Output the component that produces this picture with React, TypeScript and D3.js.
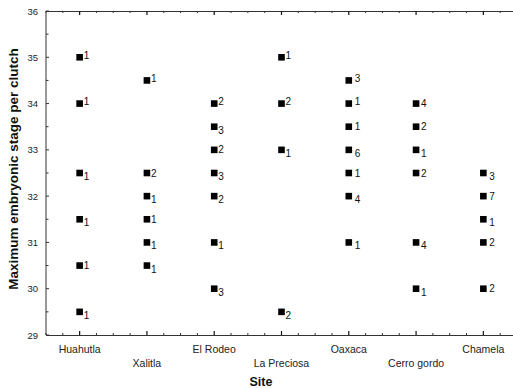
import React from 'react';
import * as d3 from 'd3';

// sites along the x axis
const sites = ['Huahutla', 'Xalitla', 'El Rodeo', 'La Preciosa', 'Oaxaca', 'Cerro gordo', 'Chamela'];

// max embryonic stage values per site
const stages = [
  [35, 34, 32.5, 31.5, 30.5, 29.5],
  [34.5, 32.5, 32, 31.5, 31, 30.5],
  [34, 33.5, 33, 32.5, 32, 31, 30],
  [35, 34, 33, 29.5],
  [34.5, 34, 33.5, 33, 32.5, 32, 31],
  [34, 33.5, 33, 32.5, 31, 30],
  [32.5, 32, 31.5, 31, 30],
];

// number of clutches at each point
const counts = [
  [1, 1, 1, 1, 1, 1],
  [1, 2, 1, 1, 1, 1],
  [2, 3, 2, 3, 2, 1, 3],
  [1, 2, 1, 2],
  [3, 1, 1, 6, 1, 4, 1],
  [4, 2, 1, 2, 4, 1],
  [3, 7, 1, 2, 2],
];

// where the count label sits next to its marker: u = raised, m = level, d = lowered
const labelPos = [
  ['u', 'u', 'd', 'd', 'm', 'd'],
  ['u', 'm', 'd', 'm', 'd', 'd'],
  ['u', 'd', 'm', 'd', 'd', 'd', 'd'],
  ['u', 'u', 'd', 'd'],
  ['u', 'u', 'm', 'd', 'm', 'd', 'd'],
  ['m', 'm', 'd', 'm', 'd', 'd'],
  ['d', 'm', 'd', 'm', 'm'],
];

const yTicks = [29, 30, 31, 32, 33, 34, 35, 36];

const W = 513;
const H = 388;
const top = 11;
const bottom = 335;
const left = 46;
const right = 517;

const font = '"Liberation Sans", Arial, sans-serif';
const axisColor = '#333';

export default function App() {
  const x = d3.scalePoint<string>().domain(sites).range([left, right]).padding(0.5);
  const y = d3.scaleLinear().domain([29, 36]).range([bottom, top]);
  const step = x.step();

  // minor ticks on x every quarter category
  const xMinor: number[] = [];
  for (let i = 0; i <= sites.length * 4; i++) {
    const px = left + (i * step) / 4;
    if (i % 4 !== 2) xMinor.push(px);
  }
  const yMinor = d3.range(29.5, 36, 1);

  const gap = [4, 4, 4, 4, 6, 5, 6];
  const baseShift: Record<string, number> = { u: 1.5, m: 3.5, d: 7 };

  return (
    <div style={{ position: 'fixed', left: 0, top: 0 }}>
      <svg width={W} height={H} style={{ display: 'block', background: '#fff' }} fontFamily={font}>
        {/* axis lines */}
        <line x1={left} x2={left} y1={top} y2={bottom} stroke={axisColor} strokeWidth={1} />
        <line x1={left} x2={right} y1={bottom + 0.5} y2={bottom + 0.5} stroke={axisColor} strokeWidth={1} />
        <line x1={left} x2={right} y1={top + 0.5} y2={top + 0.5} stroke={axisColor} strokeWidth={1} />

        {/* y ticks */}
        {yTicks.map(t => (
          <g key={'y' + t}>
            <line x1={left} x2={left + 3} y1={y(t)} y2={y(t)} stroke={axisColor} />
            <text x={38} y={y(t) + 3.5} fontSize={9.5} textAnchor="end" fill="#222">{t}</text>
          </g>
        ))}
        {yMinor.map(t => (
          <line key={'ym' + t} x1={left} x2={left + 2.5} y1={y(t)} y2={y(t)} stroke={axisColor} />
        ))}

        {/* x ticks, top and bottom, pointing inward */}
        {sites.map(s => (
          <g key={'x' + s}>
            <line x1={x(s)} x2={x(s)} y1={top} y2={top + 4} stroke="#111" strokeWidth={1.2} />
            <line x1={x(s)} x2={x(s)} y1={bottom} y2={bottom - 4} stroke="#111" strokeWidth={1.2} />
          </g>
        ))}
        {xMinor.map((px, i) => (
          <g key={'xm' + i}>
            <line x1={px} x2={px} y1={top} y2={top + 2} stroke={axisColor} />
            <line x1={px} x2={px} y1={bottom} y2={bottom - 2} stroke={axisColor} />
          </g>
        ))}

        {/* category labels, staggered */}
        {sites.map((s, i) => (
          <text key={'xl' + s} x={x(s)} y={i % 2 === 0 ? 352.5 : 366.5} fontSize={10.5} textAnchor="middle" fill="#222">{s}</text>
        ))}

        {/* markers and count labels */}
        {sites.map((s, i) => stages[i].map((v, j) => {
          const cx = x(s) as number;
          const cy = y(v);
          return (
            <g key={s + j}>
              <rect x={cx - 3.3} y={cy - 3.3} width={6.6} height={6.6} fill="#000" />
              <text x={cx + gap[i]} y={cy + baseShift[labelPos[i][j]]} fontSize={10} fill="#111">{counts[i][j]}</text>
            </g>
          );
        }))}

        {/* axis titles */}
        <text x={261} y={386} fontSize={12.5} fontWeight="bold" textAnchor="middle" fill="#111">Site</text>
        <text transform={`translate(18,169) rotate(-90)`} fontSize={13.5} fontWeight="bold" textAnchor="middle" fill="#111">Maximum embryonic stage per clutch</text>
      </svg>
    </div>
  );
}
